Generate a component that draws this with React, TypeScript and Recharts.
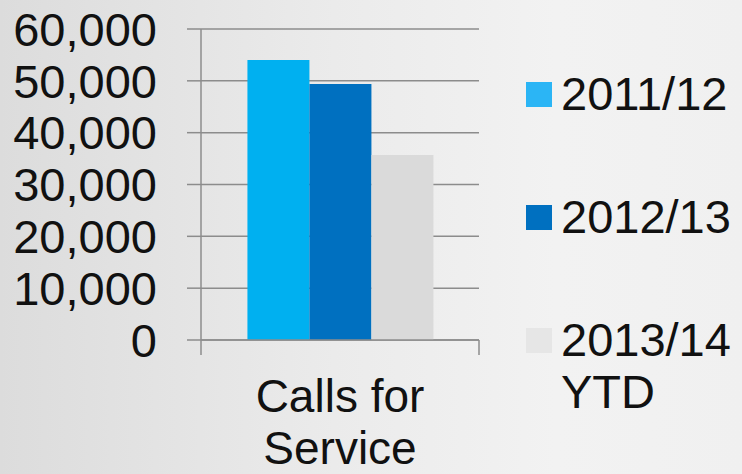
import React from "react";
import { BarChart, Bar, XAxis, YAxis, CartesianGrid, Legend } from "recharts";

const categories = ["Calls for Service"];
const series2011 = [54000];
const series2012 = [49400];
const series2013 = [35700];
const seriesNames = ["2011/12", "2012/13", "2013/14 YTD"];
const seriesColors = ["#00b0f0", "#0070c0", "#dadada"];
const legendColors = ["#2bb5f5", "#0070c0", "#e6e6e6"];
const yTicks = [0, 10000, 20000, 30000, 40000, 50000, 60000];

const data = categories.map((name, i) => ({
  name,
  s0: series2011[i],
  s1: series2012[i],
  s2: series2013[i],
}));

const FONT = "'Liberation Sans', Arial, sans-serif";
const AXIS_GREY = "#8c8c8c";

function CategoryTick(props: any) {
  const { x, y, width, payload } = props;
  const words = String(payload.value).split(" ");
  const lines = [words.slice(0, 2).join(" "), words.slice(2).join(" ")];
  return (
    <g>
      <line x1={x - width / 2} x2={x - width / 2} y1={y - 15} y2={y} stroke={AXIS_GREY} strokeWidth={1.5} />
      <line x1={x + width / 2} x2={x + width / 2} y1={y - 15} y2={y} stroke={AXIS_GREY} strokeWidth={1.5} />
      <text x={x} y={y} textAnchor="middle" fill="#111" fontSize={46} fontFamily={FONT}>
        <tspan x={x} dy={57}>{lines[0]}</tspan>
        <tspan x={x} dy={52}>{lines[1]}</tspan>
      </text>
    </g>
  );
}

function renderLegend(props: any) {
  const { payload } = props;
  return (
    <div style={{ fontFamily: FONT }}>
      {payload.map((item: any, i: number) => (
        <div key={item.value} style={{ display: "flex", alignItems: "flex-start", height: 123 }}>
          <div
            style={{
              width: 26,
              height: 25,
              marginTop: 14,
              marginRight: 9,
              background: legendColors[i] || item.color,
              flexShrink: 0,
            }}
          />
          <div style={{ fontSize: 47, lineHeight: "52px", color: "#111", width: 180 }}>{item.value}</div>
        </div>
      ))}
    </div>
  );
}

export default function App() {
  return (
    <div
      style={{
        position: "fixed",
        left: 0,
        top: 0,
        width: 742,
        height: 474,
        background: "linear-gradient(to right, #dcdcdc 0%, #ebebeb 45%, #f2f2f2 75%, #f0f0f0 100%)",
      }}
    >
      <BarChart
        width={742}
        height={474}
        data={data}
        margin={{ top: 29, right: 263, bottom: 0, left: 0 }}
        barCategoryGap="16.7%"
        barGap={0}
      >
        <CartesianGrid horizontal vertical={false} stroke={AXIS_GREY} strokeWidth={1.5} />
        <XAxis
          dataKey="name"
          height={134}
          axisLine={{ stroke: AXIS_GREY, strokeWidth: 1.5 }}
          tickLine={false}
          tickSize={15}
          tickMargin={0}
          tick={<CategoryTick />}
          interval={0}
        />
        <YAxis
          width={201}
          domain={[0, 60000]}
          ticks={yTicks}
          interval={0}
          tickFormatter={(v: number) => v.toLocaleString("en-US")}
          axisLine={{ stroke: AXIS_GREY, strokeWidth: 1.5 }}
          tickLine={{ stroke: AXIS_GREY, strokeWidth: 1.5 }}
          tickSize={14}
          tickMargin={30}
          tick={{ fill: "#111", fontSize: 47, fontFamily: FONT }}
        />
        <Legend
          layout="vertical"
          verticalAlign="middle"
          align="center"
          content={renderLegend}
          wrapperStyle={{ left: 526, top: 68, width: 216 }}
        />
        {seriesNames.map((n, i) => (
          <Bar key={n} dataKey={`s${i}`} name={n} fill={seriesColors[i]} isAnimationActive={false} />
        ))}
      </BarChart>
    </div>
  );
}
